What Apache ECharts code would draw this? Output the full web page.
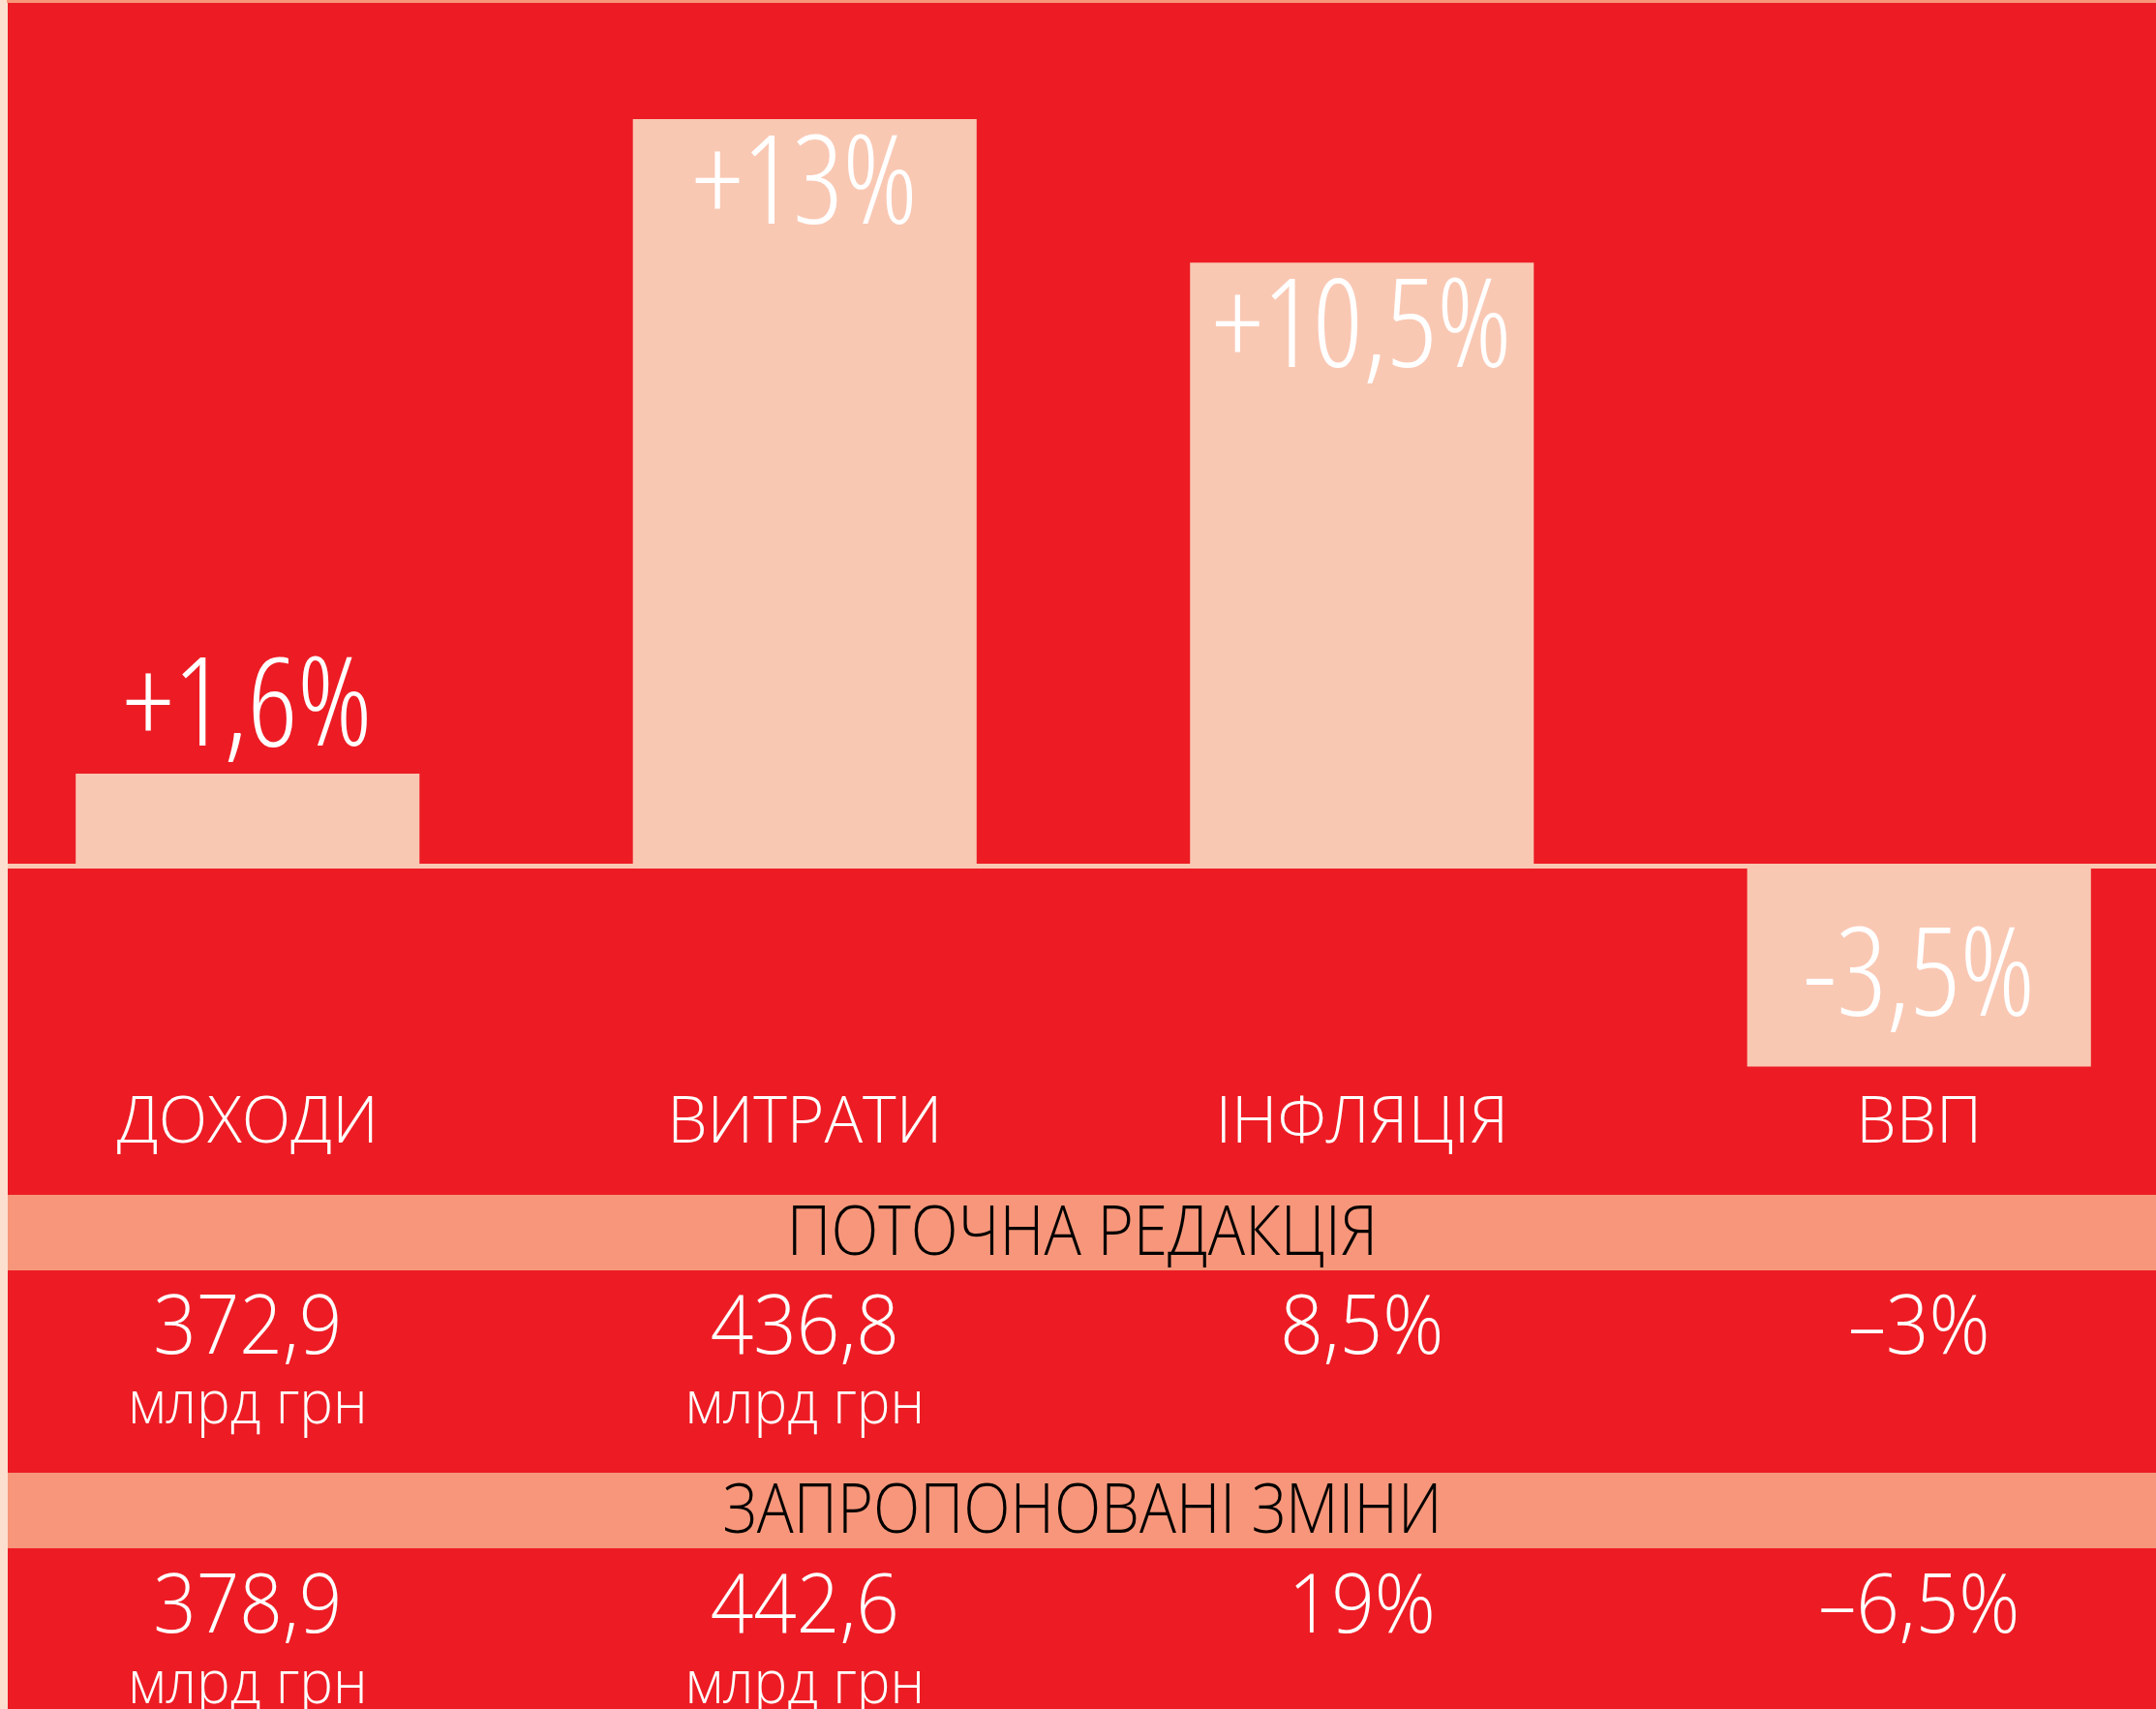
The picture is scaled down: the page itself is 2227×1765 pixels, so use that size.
<!DOCTYPE html>
<html>
<head>
<meta charset="utf-8">
<script src="https://cdn.jsdelivr.net/npm/echarts@6/dist/echarts.min.js"></script>
<style>
html,body{margin:0;padding:0;background:#ED1C24;}
#chart{width:2227px;height:1765px;}
</style>
</head>
<body>
<div id="chart"></div>
<script>
const categories = ['ДОХОДИ', 'ВИТРАТИ', 'ІНФЛЯЦІЯ', 'ВВП'];
const changeValues = [1.6, 13, 10.5, -3.5];
const changeLabels = ['+1,6%', '+13%', '+10,5%', '-3,5%'];
const tableHeaders = ['ПОТОЧНА РЕДАКЦІЯ', 'ЗАПРОПОНОВАНІ ЗМІНИ'];
const currentValues = ['372,9', '436,8', '8,5%', '–3%'];
const proposedValues = ['378,9', '442,6', '19%', '–6,5%'];
const valueUnits = ['млрд грн', 'млрд грн', '', ''];

const RED = '#ED1C24';
const PEACH = '#F9C8B3';
const SALMON = '#F7967A';
const STRIP = '#FDDFCF';
const FONT = "'Open Sans'";
const CONDENSED = 'semi-condensed';

const chart = echarts.init(document.getElementById('chart'), null, {renderer: 'canvas'});

const labelPositions = changeValues.map((v, i) => {
  if (v < 0) return {position: 'inside', offset: [0, 15]};
  if (v < 3) return {position: 'top', distance: 2};
  return {position: 'insideTop', distance: 8};
});

chart.setOption({
  backgroundColor: RED,
  animation: false,
  grid: {left: -32, width: 2302, top: 4.5, height: 1097, outerBoundsMode: 'none', containLabel: false},
  xAxis: {
    type: 'category',
    data: categories,
    position: 'bottom',
    axisLine: {show: false, onZero: false},
    axisTick: {show: false},
    axisLabel: {
      color: '#FFFFFF', fontSize: 66, fontWeight: 300,
      fontFamily: FONT, margin: 27, lineHeight: 66, verticalAlign: 'top'
    }
  },
  yAxis: {
    type: 'value', min: -3.5, max: 15, show: false,
    splitLine: {show: false}
  },
  series: [{
    type: 'bar',
    data: changeValues.map((v, i) => ({
      value: v,
      label: Object.assign({}, labelPositions[i])
    })),
    barWidth: '61.7%',
    itemStyle: {color: PEACH},
    label: {
      show: true,
      color: '#FFFFFF',
      fontSize: 127,
      lineHeight: 127,
      fontWeight: 300,
      fontStyle: CONDENSED,
      fontFamily: FONT,
      formatter: p => changeLabels[p.dataIndex]
    },
    markLine: {
      silent: true,
      symbol: 'none',
      label: {show: false},
      lineStyle: {color: PEACH, width: 5, type: 'solid'},
      data: [{yAxis: 0}]
    }
  }]
});

function txt(x, y, text, size, color, sx) {
  return {
    type: 'text', x: x, y: y, z: 20, scaleX: sx,
    style: {
      text: text, fill: color, fontSize: size, fontWeight: 300,
      fontFamily: FONT,
      align: 'center', verticalAlign: 'middle'
    }
  };
}

const graphics = [
  {type: 'rect', shape: {x: 8, y: 1234, width: 2219, height: 78}, style: {fill: SALMON}, z: 5},
  {type: 'rect', shape: {x: 8, y: 1521, width: 2219, height: 78}, style: {fill: SALMON}, z: 5},
  {type: 'rect', shape: {x: 0, y: 0, width: 8, height: 1765}, style: {fill: STRIP}, z: 30},
  {type: 'rect', shape: {x: 7, y: 0, width: 2220, height: 3}, style: {fill: SALMON}, z: 30},
  txt(1118, 1276, tableHeaders[0], 71, '#000000', 0.9),
  txt(1118, 1563, tableHeaders[1], 71, '#000000', 0.89)
];
categories.forEach((c, i) => {
  const cx = chart.convertToPixel({xAxisIndex: 0}, i);
  graphics.push(txt(cx, 1374, currentValues[i], 84, '#FFFFFF', 0.93));
  if (valueUnits[i]) graphics.push(txt(cx, 1452, valueUnits[i], 62, '#FFFFFF', 0.94));
  graphics.push(txt(cx, 1662, proposedValues[i], 84, '#FFFFFF', 0.93));
  if (valueUnits[i]) graphics.push(txt(cx, 1741, valueUnits[i], 62, '#FFFFFF', 0.94));
});
chart.setOption({graphic: graphics});
</script>
</body>
</html>
